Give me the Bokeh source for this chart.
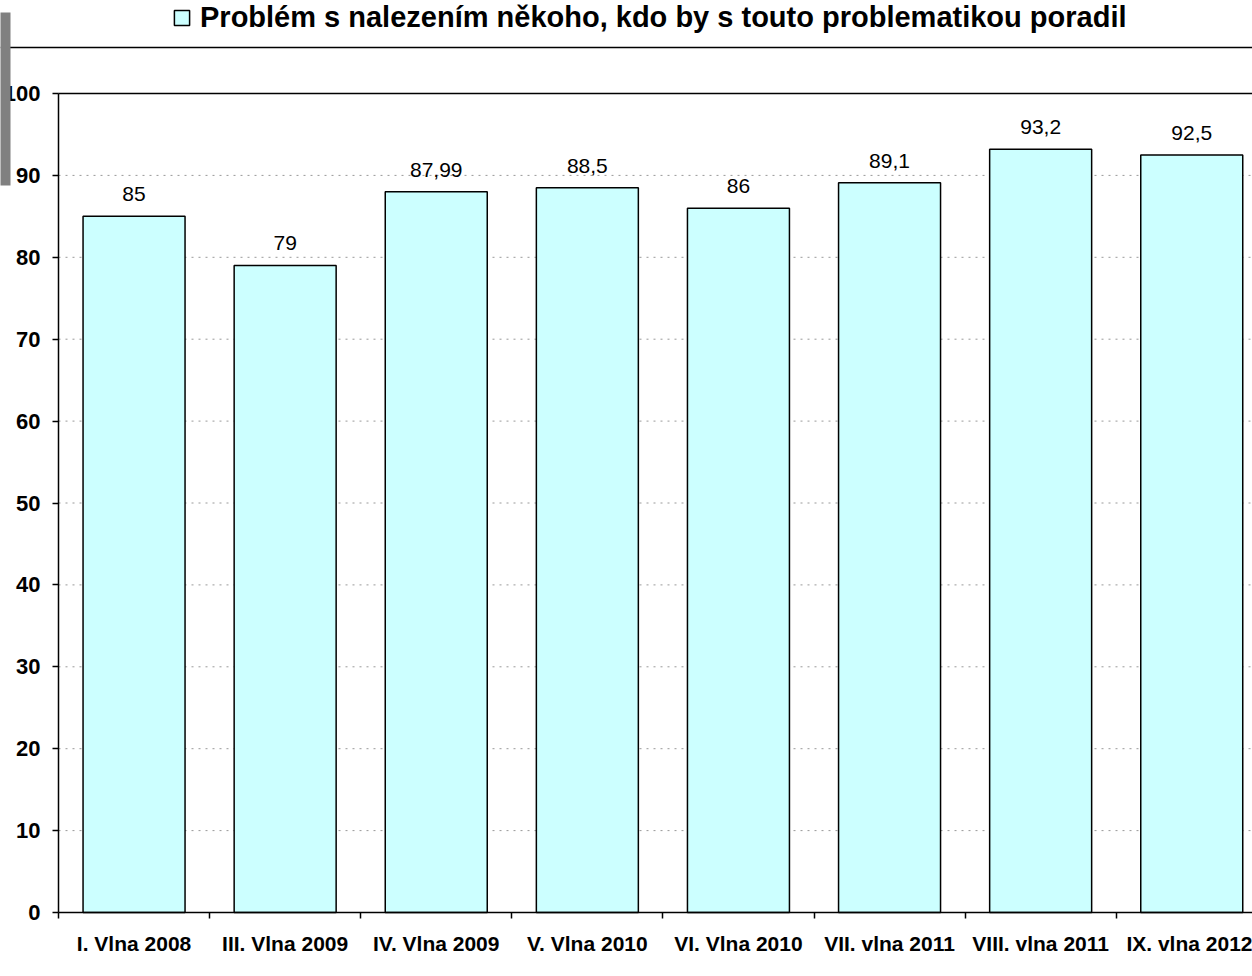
from bokeh.plotting import figure
from bokeh.models import (ColumnDataSource, Range1d, FixedTicker, LabelSet, Span,
                          BoxAnnotation, Legend, LegendItem)
from bokeh.core.properties import value
from bokeh.embed import file_html
from bokeh.resources import INLINE

# ---- data ----
categories = ["I. Vlna 2008", "III. Vlna 2009", "IV. Vlna 2009", "V. Vlna 2010",
              "VI. Vlna 2010", "VII. vlna 2011", "VIII. vlna 2011", "IX. vlna 2012"]
values = [85, 79, 87.99, 88.5, 86, 89.1, 93.2, 92.5]
y_ticks = [0, 10, 20, 30, 40, 50, 60, 70, 80, 90, 100]
series_name = "Problém s nalezením někoho, kdo by s touto problematikou poradil"

# ---- layout constants (pixels) ----
W, H = 1252, 976
AXIS_X = 58          # pixel position of the value axis
FB = 912             # pixel position of the category axis
FT100 = 93           # pixel position of value 100
CAT_W = 151.1
Y_MAX = 100.0
PX_PER_Y = (FB - FT100) / Y_MAX

def px_x(px):
    return (px - AXIS_X) / CAT_W

def px_y(py):
    return (FB - py) / PX_PER_Y

X_START, X_END = px_x(0), px_x(W)
Y_BOTTOM, Y_TOP = px_y(H), px_y(0)

FONT = "Liberation Sans"
BAR_FILL = "#CCFFFF"

centers = [i + 0.5 for i in range(len(categories))]
bounds = list(range(len(categories) + 1))
labels = [f"{v:g}".replace(".", ",") for v in values]

src = ColumnDataSource(dict(x=centers, top=values, lab=labels))
grid_src = ColumnDataSource(dict(y=[t for t in y_ticks if 0 < t < Y_MAX]))

p = figure(width=W, height=H, output_backend="svg", toolbar_location=None,
           x_range=Range1d(X_START, X_END), y_range=Range1d(Y_BOTTOM, Y_TOP),
           min_border_left=0, min_border_right=0, min_border_top=0,
           min_border_bottom=0, tools="")
p.styles = {"position": "absolute", "left": "0px", "top": "0px"}
p.outline_line_color = None
p.background_fill_color = "white"
p.border_fill_color = "white"
p.xgrid.visible = False
p.ygrid.visible = False

# grid lines (from tick values), drawn below the bars
p.segment(x0=0, x1=X_END, y0="y", y1="y", source=grid_src,
          line_color="#999999", line_width=1, line_dash="2 5")
p.segment(x0=[0], x1=[X_END], y0=[Y_MAX], y1=[Y_MAX], line_color="black", line_width=1.5)

bars = p.vbar(x="x", top="top", width=0.675, bottom=0, source=src,
              fill_color=BAR_FILL, line_color="black", line_width=1.5)

# value labels
p.add_layout(LabelSet(x="x", y="top", text="lab", source=src, text_align="center",
                      text_baseline="alphabetic", y_offset=15,
                      text_font=value(FONT), text_font_size="21px", text_color="black"))

# x axis (fixed at value 0)
xa = p.xaxis[0]
xa.fixed_location = 0
xa.bounds = (0, X_END)
xa.ticker = FixedTicker(ticks=centers, minor_ticks=bounds)
xa.major_label_overrides = {c: n for c, n in zip(centers, categories)}
xa.major_tick_line_color = None
xa.major_tick_out = 6
xa.major_tick_in = 0
xa.minor_tick_out = 6
xa.minor_tick_in = 0
xa.minor_tick_line_color = "black"
xa.minor_tick_line_width = 1.5
xa.axis_line_color = "black"
xa.axis_line_width = 1.5
xa.major_label_standoff = 13
xa.major_label_text_font = FONT
xa.major_label_text_font_style = "bold"
xa.major_label_text_font_size = "21px"
xa.major_label_text_color = "black"

# y axis (fixed at the category axis origin)
ya = p.yaxis[0]
ya.fixed_location = 0
ya.bounds = (0, Y_MAX)
ya.ticker = FixedTicker(ticks=y_ticks, minor_ticks=[])
ya.major_tick_out = 6
ya.major_tick_in = 0
ya.major_tick_line_color = "black"
ya.major_tick_line_width = 1.5
ya.axis_line_color = "black"
ya.axis_line_width = 1.5
ya.major_label_standoff = 12
ya.major_label_text_font = FONT
ya.major_label_text_font_style = "bold"
ya.major_label_text_font_size = "22px"
ya.major_label_text_color = "black"

# separator line under the title
p.add_layout(Span(location=px_y(47), dimension="width", line_color="black", line_width=1.5))

# gray box at left
p.add_layout(BoxAnnotation(left=px_x(-20), right=px_x(10), top=px_y(12), bottom=px_y(185),
                           fill_color="#808080", fill_alpha=1.0, line_color=None,
                           level="overlay"))

# legend as title
legend = Legend(items=[LegendItem(label=series_name, renderers=[bars])],
                location=(172, H - 34), orientation="horizontal",
                padding=0, margin=0, glyph_width=19, glyph_height=19,
                label_standoff=9, border_line_color=None, background_fill_alpha=0,
                label_text_font=FONT, label_text_font_style="bold",
                label_text_font_size="29px", label_text_color="black")
p.add_layout(legend)

open("out.html", "w").write(file_html(p, INLINE))
